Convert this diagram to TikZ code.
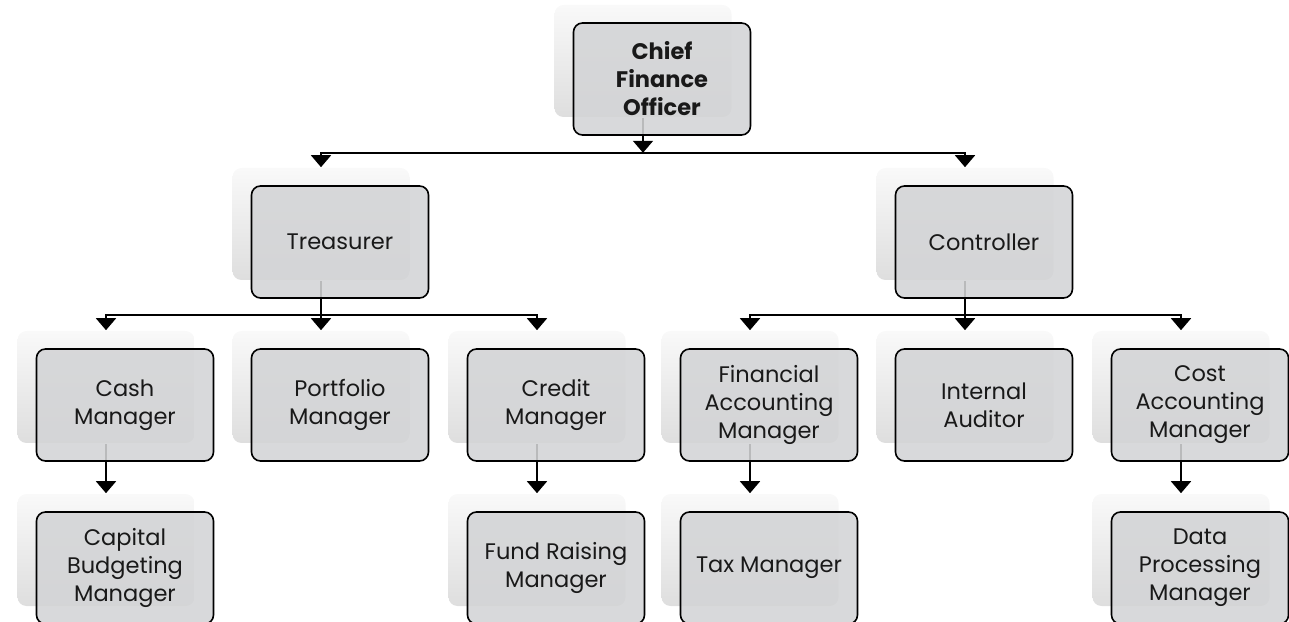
\documentclass[tikz,border=0pt]{standalone}
\usepackage{fontspec}
\setmainfont{Poppins}
\usetikzlibrary{arrows.meta, positioning, shadows, backgrounds}

\definecolor{boxgray}{RGB}{211,212,214}
\definecolor{ghosttop}{RGB}{249,249,249}
\definecolor{ghostmid}{RGB}{243,243,243}
\definecolor{ghostbot}{RGB}{222,222,222}
\definecolor{inkgray}{RGB}{25,25,25}

\tikzset{
  post/.style={rectangle, draw=black, line width=1.6pt, rounded corners=9pt,
    minimum width=177pt, minimum height=112pt, fill=boxgray, fill opacity=0.88,
    text opacity=1, text=inkgray, align=center, font=\fontsize{22.5}{28}\selectfont,
    general shadow={shadow xshift=-19pt, shadow yshift=18pt, draw=none,
      fill opacity=1, top color=ghosttop, middle color=ghostmid, bottom color=ghostbot}},
  link/.style={line width=1.8pt, -{Triangle[width=20pt,length=12pt]}},
}

\begin{document}
\begin{tikzpicture}[node distance=163pt and 215pt, on grid]
    \useasboundingbox (0,0) rectangle (1289pt,621pt);

    % top
    \node[post] (cfo) at (662pt,542pt) {\textbf{Chief}\\\textbf{Finance}\\\textbf{Officer}};

    % second row
    \node[post, below left=163pt and 322pt of cfo] (treas) {Treasurer};
    \node[post, below right=163pt and 322pt of cfo] (contr) {Controller};

    % third row
    \node[post, below left=of treas] (cash) {Cash\\Manager};
    \node[post, below=of treas] (port) {Portfolio\\Manager};
    \node[post, below right=163pt and 216pt of treas] (credit) {Credit\\Manager};
    \node[post, below left=of contr] (finacc) {Financial\\Accounting\\Manager};
    \node[post, below=of contr] (audit) {Internal\\Auditor};
    \node[post, below right=163pt and 216pt of contr] (costacc) {Cost\\Accounting\\Manager};

    % fourth row
    \node[post, below=of cash] (capital) {Capital\\Budgeting\\Manager};
    \node[post, below=of credit] (fund) {Fund Raising\\Manager};
    \node[post, below=of finacc] (tax) {Tax Manager};
    \node[post, below=of costacc] (data) {Data\\Processing\\Manager};

    \begin{scope}[on background layer]
        \draw[link] ([xshift=-19pt,yshift=18pt]cfo.south) -- ([xshift=-19pt,yshift=-17pt]cfo.south);
        \draw[link] ([xshift=-19pt,yshift=-17pt]cfo.south) -| ([xshift=-19pt,yshift=18pt]treas.north);
        \draw[link] ([xshift=-19pt,yshift=-17pt]cfo.south) -| ([xshift=-19pt,yshift=18pt]contr.north);

        \draw[link] ([xshift=-19pt,yshift=18pt]treas.south) -- ([xshift=-19pt,yshift=18pt]port.north);
        \draw[link] ([xshift=-19pt,yshift=-16pt]treas.south) -| ([xshift=-19pt,yshift=18pt]cash.north);
        \draw[link] ([xshift=-19pt,yshift=-16pt]treas.south) -| ([xshift=-19pt,yshift=18pt]credit.north);

        \draw[link] ([xshift=-19pt,yshift=18pt]contr.south) -- ([xshift=-19pt,yshift=18pt]audit.north);
        \draw[link] ([xshift=-19pt,yshift=-16pt]contr.south) -| ([xshift=-19pt,yshift=18pt]finacc.north);
        \draw[link] ([xshift=-19pt,yshift=-16pt]contr.south) -| ([xshift=-19pt,yshift=18pt]costacc.north);

        \draw[link] ([xshift=-19pt,yshift=18pt]cash.south) -- ([xshift=-19pt,yshift=18pt]capital.north);
        \draw[link] ([xshift=-19pt,yshift=18pt]credit.south) -- ([xshift=-19pt,yshift=18pt]fund.north);
        \draw[link] ([xshift=-19pt,yshift=18pt]finacc.south) -- ([xshift=-19pt,yshift=18pt]tax.north);
        \draw[link] ([xshift=-19pt,yshift=18pt]costacc.south) -- ([xshift=-19pt,yshift=18pt]data.north);
    \end{scope}
\end{tikzpicture}
\end{document}
